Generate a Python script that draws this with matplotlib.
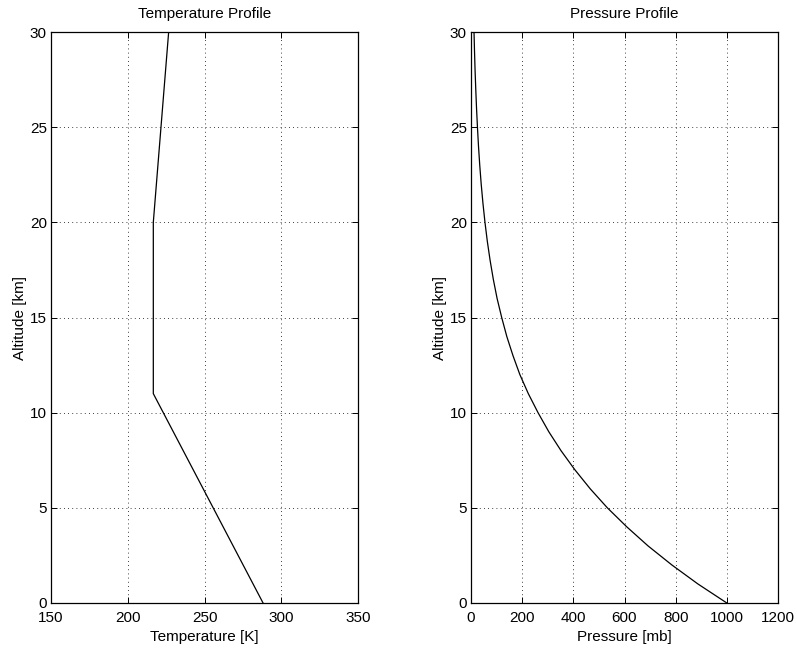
import numpy as np
import matplotlib.pyplot as plt

plt.rcParams["font.family"] = ["Liberation Sans", "DejaVu Sans"]
plt.rcParams["font.size"] = 11

# temperature profile breakpoints
temp_alt = [0, 11, 20, 30]
temp_k = [288.15, 216.65, 216.65, 226.65]

# pressure read at each km, 0..30
pres_alt = list(range(0, 31))
pres_mb = [1000, 887, 785, 692, 609, 533, 466, 406, 352, 304,
           262, 224, 191, 164, 140, 120, 102, 87.3, 74.7, 63.8,
           54.6, 46.7, 39.9, 34.2, 29.3, 25.2, 21.6, 18.6, 15.9, 13.7, 11.8]

fig = plt.figure(figsize=(7.97, 6.49), dpi=100)
W, H = 797, 649
ax1 = fig.add_axes([51 / W, 1 - 603 / H, 307 / W, 571 / H])
ax2 = fig.add_axes([471 / W, 1 - 603 / H, 307 / W, 571 / H])


def style(ax):
    ax.grid(True, linestyle=(0, (1, 4)), color="black", linewidth=0.6)
    ax.tick_params(direction="in", top=True, right=True, length=4, width=0.7)
    ax.tick_params(axis="x", pad=6)
    ax.tick_params(axis="y", pad=3)
    for s in ax.spines.values():
        s.set_linewidth(0.9)
    ax.set_ylim(0, 30)
    ax.set_yticks([0, 5, 10, 15, 20, 25, 30])
    ax.set_ylabel("Altitude [km]", labelpad=2)


ax1.plot(temp_k, temp_alt, color="black", linewidth=0.9)
ax1.set_xlim(150, 350)
ax1.set_xticks([150, 200, 250, 300, 350])
ax1.set_xlabel("Temperature [K]", labelpad=3)
ax1.set_title("Temperature Profile", fontsize=11, pad=10)
style(ax1)

ax2.plot(pres_mb, pres_alt, color="black", linewidth=0.9)
ax2.set_xlim(0, 1200)
ax2.set_xticks([0, 200, 400, 600, 800, 1000, 1200])
ax2.set_xlabel("Pressure [mb]", labelpad=3)
ax2.set_title("Pressure Profile", fontsize=11, pad=10)
style(ax2)

fig.savefig("out.png", dpi=100)
